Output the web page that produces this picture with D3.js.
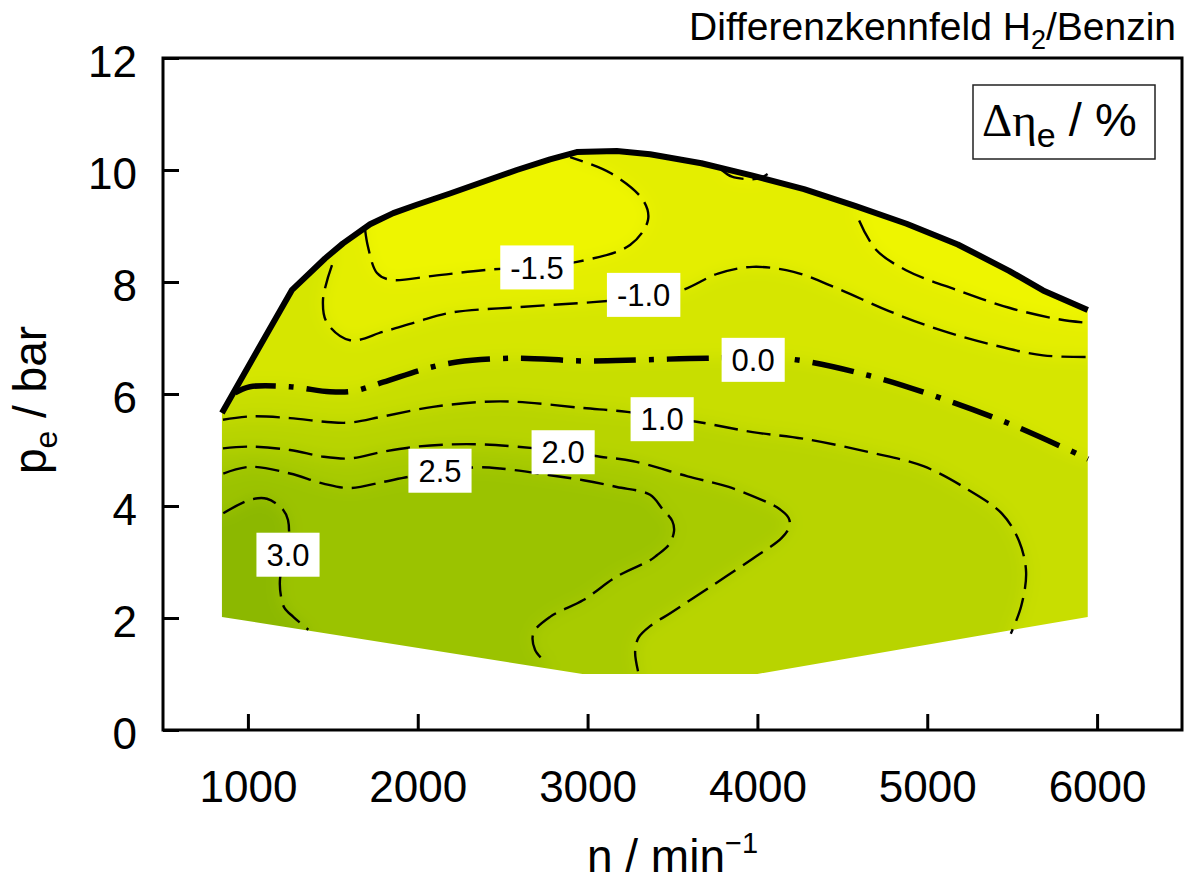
<!DOCTYPE html>
<html>
<head>
<meta charset="utf-8">
<script src="https://cdn.jsdelivr.net/npm/d3@7"></script>
<style>
  body { margin: 0; background: #fff; }
  svg { display: block; font-family: "Liberation Sans", Arial, sans-serif; }
</style>
</head>
<body>
<div id="chart"></div>
<script>
// axis ticks
const xTicks = [1000, 2000, 3000, 4000, 5000, 6000]
const yTicks = [0, 2, 4, 6, 8, 10, 12]

// envelope of the map: full load curve (left -> right), lower limit (right -> left)  [n 1/min, pe bar]
const fullLoad = [[847,5.66],[1060,6.80],[1260,7.86],[1454,8.42],[1560,8.69],[1719,9.03],[1856,9.23],[1994,9.38],
  [2190,9.58],[2386,9.79],[2583,10.0],[2779,10.19],[2936,10.32],[3172,10.34],[3368,10.28],[3670,10.12],
  [3972,9.90],[4274,9.66],[4575,9.36],[4878,9.04],[5180,8.67],[5482,8.20],[5682,7.85],[5945,7.50]]
const lowLoad = [[5945,2.02],[4000,1.0],[2970,1.0],[847,2.02]]

// isolines of delta eta_e (%)
const isoM15a = [[1690,8.93],[1707,8.63],[1760,8.16],[1837,8.04],[2090,8.11],[2384,8.21],[2700,8.28],[2938,8.36],
  [3250,8.66],[3356,9.11],[3327,9.46],[3132,9.95],[2897,10.23]]
const isoM15b = [[3790,10.0],[3850,9.88],[3930,9.84],[4010,9.85],[4060,9.93]]
const isoM15c = [[4599,9.10],[4697,8.58],[4875,8.21],[5180,7.85],[5482,7.54],[5782,7.33],[5947,7.27]]
const isoM10 = [[1495,8.30],[1442,7.68],[1466,7.27],[1601,6.96],[1796,7.11],[1996,7.29],[2190,7.45],[2585,7.55],
  [3032,7.64],[3300,7.72],[3551,7.85],[3768,8.15],[3972,8.27],[4213,8.18],[4475,7.88],[4775,7.48],[5079,7.14],
  [5382,6.88],[5682,6.69],[5947,6.66]]
const iso00 = [[924,6.02],[1012,6.13],[1248,6.13],[1483,6.04],[1619,6.05],[1796,6.21],[2055,6.46],[2231,6.57],
  [2585,6.64],[2973,6.59],[3327,6.61],[3700,6.64],[4175,6.63],[4657,6.33],[5076,5.93],[5500,5.45],[5947,4.84]]
const iso10 = [[853,5.54],[1012,5.60],[1248,5.57],[1466,5.50],[1601,5.49],[1796,5.60],[2090,5.77],[2384,5.86],
  [2585,5.86],[2973,5.75],[3232,5.68],[3650,5.50],[3972,5.32],[4275,5.20],[4675,4.95],[4978,4.71],[5241,4.29],
  [5441,3.86],[5541,3.37],[5582,2.82],[5553,2.21],[5492,1.72]]
const iso20 = [[853,5.03],[1012,5.06],[1248,5.00],[1444,4.88],[1601,4.85],[1797,4.97],[1994,5.06],[2190,5.10],
  [2386,5.10],[2583,5.06],[2850,4.98],[3074,4.88],[3270,4.80],[3589,4.53],[3831,4.34],[4032,4.10],[4113,3.98],
  [4183,3.79],[4189,3.64],[4143,3.43],[3972,3.06],[3730,2.57],[3489,2.09],[3370,1.86],[3300,1.65],[3280,1.40],[3297,1.05]]
const iso25 = [[855,4.58],[1012,4.70],[1248,4.58],[1444,4.40],[1601,4.32],[1797,4.43],[1945,4.52],[2150,4.62],
  [2337,4.69],[2485,4.67],[2779,4.55],[2975,4.46],[3172,4.34],[3368,4.20],[3440,3.95],[3499,3.73],[3509,3.55],
  [3479,3.31],[3408,3.12],[3368,3.03],[3172,2.74],[2975,2.32],[2779,2.02],[2681,1.73],[2691,1.43],[2760,1.19]]
const iso30 = [[855,3.87],[1012,4.11],[1112,4.13],[1208,3.93],[1236,3.75],[1240,3.40],[1215,3.05],[1189,2.70],
  [1195,2.38],[1215,2.18],[1267,2.02],[1356,1.79]]

// contour labels
const labelText = ['-1.5', '-1.0', '0.0', '1.0', '2.0', '2.5', '3.0']
const labelAt = [[2702,8.26],[3330,7.77],[3975,6.61],[3439,5.55],[2856,4.96],[2131,4.63],[1236,3.13]]

// colour bands
const bandLimits = [-1.5, -1.0, 0, 1.0, 2.0, 2.5, 3.0]
const bandColors = ['#eef500', '#e4ee00', '#d6e600', '#c8de00', '#b8d400', '#a8cb00', '#9bc300', '#8cb800']

const contourSet = [
  { level: -1.5, pts: isoM15a }, { level: -1.5, pts: isoM15b }, { level: -1.5, pts: isoM15c },
  { level: -1.0, pts: isoM10 }, { level: 0.0, pts: iso00 }, { level: 1.0, pts: iso10 },
  { level: 2.0, pts: iso20 }, { level: 2.5, pts: iso25 }, { level: 3.0, pts: iso30 }
]

const width = 1185, height = 883

const svg = d3.select('#chart').append('svg')
  .attr('width', width)
  .attr('height', height)

const x = d3.scaleLinear().domain([500, 6500]).range([163, 1182])
const y = d3.scaleLinear().domain([0, 12]).range([730, 58])
const color = d3.scaleThreshold().domain(bandLimits).range(bandColors)

const line = d3.line().x(d => x(d[0])).y(d => y(d[1]))
const iso = d3.line().x(d => x(d[0])).y(d => y(d[1])).curve(d3.curveCatmullRom.alpha(0.5))

const defs = svg.append('defs')
defs.append('clipPath').attr('id', 'map')
  .append('path').attr('d', line(fullLoad.concat(lowLoad)) + 'Z')
defs.append('filter').attr('id', 'soft')
  .append('feGaussianBlur').attr('stdDeviation', 8)

// filled field: bands painted on top of each other, blurred, cut to the envelope
const field = svg.append('g').attr('clip-path', 'url(#map)')
  .append('g').attr('filter', 'url(#soft)')

field.append('rect')
  .attr('x', x(500)).attr('y', y(12))
  .attr('width', x(6500) - x(500)).attr('height', y(0) - y(12))
  .attr('fill', color(0.5))

function regionPath(pts, up) {
  const a = pts.slice()
  if (a[0][0] <= 860) a.unshift([500, a[0][1]])
  if (a[a.length - 1][0] >= 5940) a.push([6500, a[a.length - 1][1]])
  const edge = up ? 12 : 0
  return iso(a) + 'L' + x(a[a.length - 1][0]) + ',' + y(edge) + 'L' + x(a[0][0]) + ',' + y(edge) + 'Z'
}

const paintOrder = contourSet.slice().sort((a, b) => {
  if ((a.level <= 0) !== (b.level <= 0)) return a.level <= 0 ? -1 : 1
  return a.level <= 0 ? b.level - a.level : a.level - b.level
})

field.selectAll('path.band')
  .data(paintOrder)
  .enter()
  .append('path')
  .attr('class', 'band')
  .attr('d', d => regionPath(d.pts, d.level <= 0))
  .attr('fill', d => d.level <= 0 ? color(d.level - 0.01) : color(d.level + 0.01))

// isolines
svg.append('g')
  .selectAll('path')
  .data(contourSet)
  .enter()
  .append('path')
  .attr('d', d => iso(d.pts))
  .attr('fill', 'none')
  .attr('stroke', '#000')
  .attr('stroke-width', d => d.level === 0 ? 5.5 : 2.4)
  .attr('stroke-dasharray', d => d.level === 0 ? '42 13 5 13' : '24 9')

// full load line
svg.append('path')
  .attr('d', line(fullLoad))
  .attr('fill', 'none')
  .attr('stroke', '#000')
  .attr('stroke-width', 6)
  .attr('stroke-linejoin', 'round')

// contour labels
const labels = svg.append('g')
  .selectAll('g')
  .data(labelText)
  .enter()
  .append('g')
  .attr('transform', (d, i) => `translate(${x(labelAt[i][0])},${y(labelAt[i][1])})`)

labels.append('text')
  .attr('text-anchor', 'middle')
  .attr('dy', '0.36em')
  .attr('font-size', 31)
  .text(d => d)

labels.insert('rect', 'text')
  .each(function () {
    const w = this.parentNode.querySelector('text').getComputedTextLength() + 20
    d3.select(this).attr('x', -w / 2).attr('width', w)
  })
  .attr('y', -22)
  .attr('height', 44)
  .attr('fill', '#fff')

// axes
const xAxis = svg.append('g')
  .attr('transform', `translate(0,${y(0)})`)
  .call(d3.axisBottom(x).tickValues(xTicks).tickFormat(d3.format('d'))
    .tickSize(-16).tickSizeOuter(0).tickPadding(41))
const yAxis = svg.append('g')
  .attr('transform', `translate(${x(500)},0)`)
  .call(d3.axisLeft(y).tickValues(yTicks).tickFormat(d3.format('d'))
    .tickSize(-16).tickSizeOuter(0).tickPadding(26))

for (const ax of [xAxis, yAxis]) {
  ax.select('.domain').remove()
  ax.selectAll('line').attr('stroke', '#000').attr('stroke-width', 3)
  ax.selectAll('text').attr('font-size', 44).attr('fill', '#000')
    .attr('font-family', '"Liberation Sans", Arial, sans-serif')
}
yAxis.selectAll('text').attr('dy', '0.43em')

svg.append('rect')
  .attr('x', x(500)).attr('y', y(12))
  .attr('width', x(6500) - x(500)).attr('height', y(0) - y(12))
  .attr('fill', 'none')
  .attr('stroke', '#000')
  .attr('stroke-width', 3)

// axis titles
const xt = svg.append('text')
  .attr('x', (x(500) + x(6500)) / 2)
  .attr('y', 872)
  .attr('text-anchor', 'middle')
  .attr('font-size', 46)
xt.append('tspan').text('n / min')
xt.append('tspan').attr('font-size', 29).attr('dy', -19).text('\u22121')

const yt = svg.append('text')
  .attr('transform', `translate(46,${(y(0) + y(12)) / 2 + 6}) rotate(-90)`)
  .attr('text-anchor', 'middle')
  .attr('font-size', 46)
yt.append('tspan').text('p')
yt.append('tspan').attr('font-size', 32).attr('dy', 11).text('e')
yt.append('tspan').attr('dy', -11).text(' / bar')

// title
const title = svg.append('text')
  .attr('x', 1176)
  .attr('y', 40)
  .attr('text-anchor', 'end')
  .attr('font-size', 39)
title.append('tspan').text('Differenzkennfeld H')
title.append('tspan').attr('font-size', 27).attr('dy', 9).text('2')
title.append('tspan').attr('dy', -9).text('/Benzin')

// quantity box
const legend = svg.append('g')
legend.append('rect')
  .attr('x', 973).attr('y', 85)
  .attr('width', 182).attr('height', 74)
  .attr('fill', '#fff')
  .attr('stroke', '#222')
  .attr('stroke-width', 1.5)
const lt = legend.append('text')
  .attr('x', 982)
  .attr('y', 136)
  .attr('font-size', 47)
lt.append('tspan').attr('font-family', '"Liberation Serif", "Times New Roman", serif').text('\u0394\u03b7')
lt.append('tspan').attr('font-size', 34).attr('dy', 11).text('e')
lt.append('tspan').attr('dy', -11).text(' / %')
</script>
</body>
</html>
